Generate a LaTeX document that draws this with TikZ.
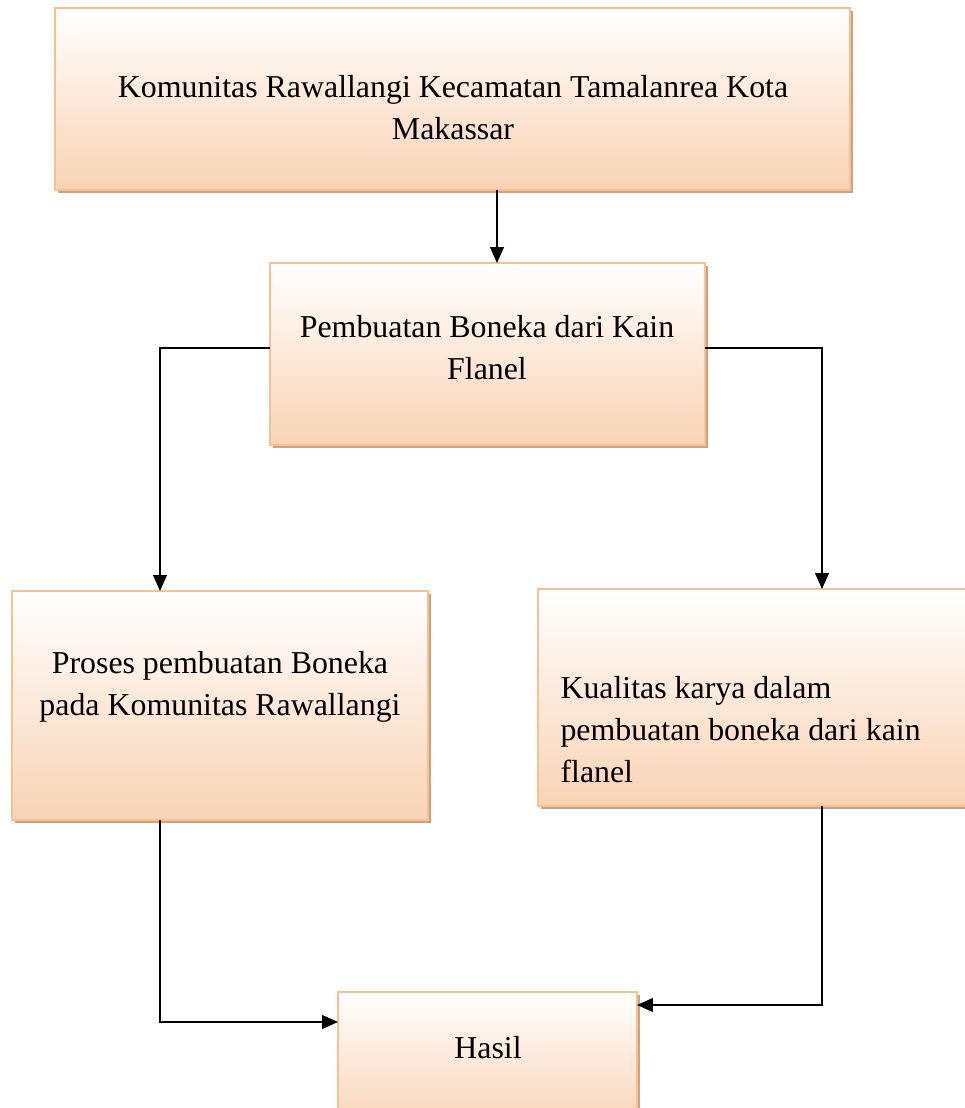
\documentclass[tikz,border=0pt]{standalone}
\usepackage{fontspec}
\setmainfont{Liberation Serif}
\usetikzlibrary{arrows.meta,shadows,fit}
\definecolor{peachline}{HTML}{FAC08F}
\definecolor{peachfill}{HTML}{F9D3B4}
\definecolor{peachshadow}{HTML}{CCA282}
\begin{document}
\begin{tikzpicture}[x=0.3766pt,y=-0.3766pt,
    box/.style={draw=peachline,line width=0.8pt,top color=white,bottom color=peachfill,
        inner sep=0pt,outer sep=0pt,
        drop shadow={shadow xshift=1.3pt,shadow yshift=-1.3pt,fill=peachshadow,opacity=1}},
    txt/.style={font=\fontsize{12}{15.8}\selectfont,inner sep=0pt},
    link/.style={line width=0.6pt,-{Triangle[length=6pt,width=5.2pt]}}]
    \useasboundingbox (0,0) rectangle (965,1108);
    \clip (0,0) rectangle (965,1108);
    \node[box,fit={(55,8) (850,190)}] (komunitas) {};
    \node[box,fit={(270,263) (705,445)}] (pembuatan) {};
    \node[box,fit={(12,591) (428,820)}] (proses) {};
    \node[box,fit={(538,589) (972,806)}] (kualitas) {};
    \node[box,fit={(338,992) (637,1130)}] (hasil) {};
    \node[txt,align=center] (komunitastext) at (453,108)
        {Komunitas Rawallangi Kecamatan Tamalanrea Kota\\Makassar};
    \node[txt,align=center] (pembuatantext) at (487,348)
        {Pembuatan Boneka dari Kain\\Flanel};
    \node[txt,align=center] (prosestext) at (220,687)
        {Proses pembuatan Boneka\\pada Komunitas Rawallangi};
    \node[txt,align=left,anchor=west] (kualitastext) at (560,730)
        {Kualitas karya dalam\\pembuatan boneka dari kain\\flanel};
    \node[txt] (hasiltext) at (488,1048) {Hasil};
    \draw[link] (komunitas.south -| 497,0) -- (pembuatan.north -| 497,0);
    \draw[link] (pembuatan.west |- 0,348) -| (proses.north -| 160,0);
    \draw[link] (pembuatan.east |- 0,348) -| (kualitas.north -| 822,0);
    \draw[link] (proses.south -| 160,0) |- (hasil.west |- 0,1022);
    \draw[link] (kualitas.south -| 822,0) |- (hasil.east |- 0,1005);
\end{tikzpicture}
\end{document}
